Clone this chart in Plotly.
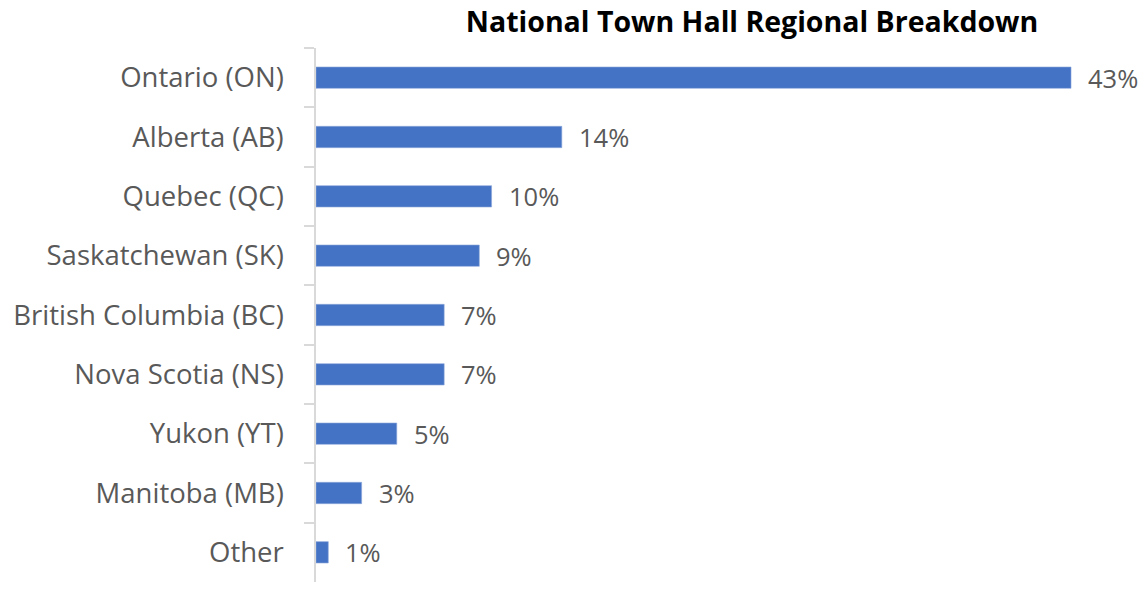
import plotly.graph_objects as go

categories = ["Ontario (ON)", "Alberta (AB)", "Quebec (QC)", "Saskatchewan (SK)",
              "British Columbia (BC)", "Nova Scotia (NS)", "Yukon (YT)",
              "Manitoba (MB)", "Other"]
values = [43.0, 14.0, 10.0, 9.3, 7.3, 7.3, 4.6, 2.6, 0.7]
labels = ["43%", "14%", "10%", "9%", "7%", "7%", "5%", "3%", "1%"]

FONT = "'Open Sans', 'Noto Sans', sans-serif"
GREY = "#595959"

fig = go.Figure()
fig.add_trace(go.Bar(
    x=values, y=categories, orientation="h",
    marker=dict(color="#4472C4", line=dict(color="#8eaadb", width=0.6)),
    width=0.36, hoverinfo="skip",
))

for v, c, t in zip(values, categories, labels):
    fig.add_annotation(x=v, y=c, text=t, showarrow=False, xanchor="left",
                       xshift=15, font=dict(family=FONT, size=25.5, color=GREY))

fig.update_layout(
    width=1146, height=592,
    margin=dict(l=316, r=36, t=48, b=10),
    plot_bgcolor="white", paper_bgcolor="white",
    showlegend=False,
    title=dict(text="<b>National Town Hall Regional Breakdown</b>",
               x=752/1146, xref="container", xanchor="center",
               y=1-22/592, yref="container", yanchor="middle",
               font=dict(family=FONT, size=28.5, color="#000000")),
    xaxis=dict(range=[0, 45.22], visible=False, showgrid=False),
    yaxis=dict(autorange="reversed", showline=True, linecolor="#d9d9d9", linewidth=1.5,
               ticks="outside", ticklen=10, tickcolor="#d9d9d9", tickwidth=1.5,
               tickson="boundaries", ticklabelstandoff=25,
               tickfont=dict(family=FONT, size=27.5, color=GREY), showgrid=False),
)

fig.write_html("out.html")
